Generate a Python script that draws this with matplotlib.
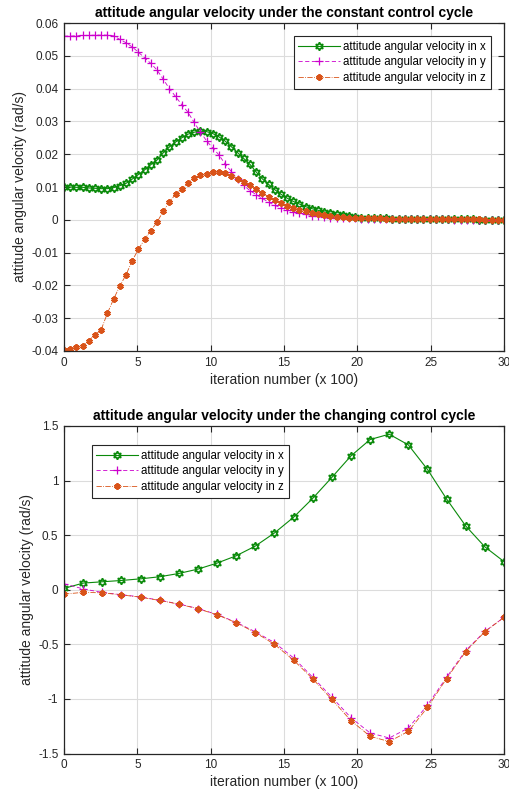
import numpy as np
import matplotlib
matplotlib.use("Agg")
import matplotlib.pyplot as plt
from matplotlib.ticker import FuncFormatter

plt.rcParams['font.family'] = ['Liberation Sans', 'DejaVu Sans']

# ---------------- data: constant control cycle (top) ----------------
top_wx = [0.0100, 0.0100, 0.0099, 0.0099, 0.0097, 0.0096, 0.0095, 0.0095, 0.0098, 0.0104,
          0.0111, 0.0124, 0.0138, 0.0152, 0.0168, 0.0182, 0.0204, 0.0222, 0.0237, 0.0250,
          0.0261, 0.0267, 0.0270, 0.0269, 0.0263, 0.0253, 0.0240,
          0.0223, 0.0205, 0.0187, 0.0169, 0.0146, 0.0125, 0.0108, 0.0092, 0.0078, 0.0066,
          0.0056, 0.0048, 0.0040, 0.0034, 0.0029, 0.0024, 0.0020, 0.0017, 0.0014, 0.0011,
          0.0009, 0.0007, 0.0006, 0.0005, 0.0004,
          0.0004, 0.0003, 0.0003, 0.0003, 0.0002, 0.0002, 0.0002, 0.0002, 0.0001, 0.0001,
          0.0001, 0.0001, 0.0001, 0.0001, 0.0001, 0.0000, 0.0000, 0.0000, 0.0000, 0.0000]
top_wy = [0.0560, 0.0560, 0.0561, 0.0562, 0.0562, 0.0563, 0.0563, 0.0563, 0.0561,
          0.0550, 0.0540, 0.0527, 0.0511, 0.0494, 0.0477, 0.0457, 0.0429, 0.0400, 0.0376,
          0.0351, 0.0328, 0.0297, 0.0268, 0.0241, 0.0219, 0.0198, 0.0170,
          0.0147, 0.0124, 0.0105, 0.0089, 0.0077, 0.0065, 0.0054, 0.0044, 0.0037, 0.0031,
          0.0025, 0.0021, 0.0017, 0.0013, 0.0011, 0.0009, 0.0007, 0.0006, 0.0005, 0.0004,
          0.0004, 0.0003, 0.0003, 0.0003, 0.0002, 0.0002, 0.0002, 0.0002, 0.0001, 0.0001,
          0.0001, 0.0001, 0.0001, 0.0001, 0.0001, 0.0001, 0.0000, 0.0000, 0.0000, 0.0000,
          0.0000, 0.0000, 0.0000, 0.0000, 0.0000]
top_wz = [-0.0397, -0.0393, -0.0389, -0.0385, -0.0368, -0.0351, -0.0335, -0.0285, -0.0242, -0.0202,
          -0.0168, -0.0125, -0.0090, -0.0060, -0.0033, -0.0008, 0.0026, 0.0054, 0.0078, 0.0095,
          0.0112, 0.0127, 0.0136, 0.0141, 0.0145, 0.0145, 0.0143,
          0.0135, 0.0125, 0.0115, 0.0105, 0.0093, 0.0082, 0.0070, 0.0060, 0.0051, 0.0043,
          0.0037, 0.0031, 0.0027, 0.0022, 0.0018, 0.0015, 0.0012, 0.0010, 0.0008, 0.0007,
          0.0006, 0.0005, 0.0005, 0.0004, 0.0004,
          0.0003, 0.0003, 0.0003, 0.0003, 0.0002, 0.0002, 0.0002, 0.0002, 0.0001, 0.0001,
          0.0001, 0.0001, 0.0001, 0.0001, 0.0001, 0.0001, 0.0000, 0.0000, 0.0000, 0.0000]

# ---------------- data: changing control cycle (bottom) ----------------
bot_wx = [0.012, 0.061, 0.073, 0.085, 0.100, 0.119, 0.149, 0.189, 0.244, 0.311, 0.400, 0.520,
          0.664, 0.837, 1.029, 1.226, 1.376, 1.425, 1.327, 1.102, 0.831, 0.584, 0.393, 0.258]
bot_wy = [0.055, 0.008, -0.025, -0.045, -0.066, -0.096, -0.130, -0.172, -0.226, -0.298, -0.385,
          -0.484, -0.624, -0.801, -0.984, -1.172, -1.312, -1.358, -1.267, -1.057, -0.801, -0.557,
          -0.381, -0.253]
bot_wz = [-0.040, -0.024, -0.028, -0.047, -0.068, -0.098, -0.132, -0.174, -0.229, -0.302, -0.392,
          -0.500, -0.645, -0.816, -1.005, -1.199, -1.342, -1.391, -1.297, -1.078, -0.813, -0.566,
          -0.384, -0.253]

labels = ['attitude angular velocity in x', 'attitude angular velocity in y',
          'attitude angular velocity in z']
titles = ['attitude angular velocity under the constant control cycle',
          'attitude angular velocity under the changing control cycle']
xlabel = 'iteration number (x 100)'
ylabel = 'attitude angular velocity (rad/s)'
x_max = 30

top_yticks = [-0.04, -0.03, -0.02, -0.01, 0, 0.01, 0.02, 0.03, 0.04, 0.05, 0.06]
bot_yticks = [-1.5, -1, -0.5, 0, 0.5, 1, 1.5]
xticks = [0, 5, 10, 15, 20, 25, 30]

c_x = '#0a8a0a'
c_y = '#cc00cc'
c_z = '#D95319'

W, H = 509, 796
fig = plt.figure(figsize=(W / 100, H / 100), dpi=100)
ax1 = fig.add_axes([64 / W, 1 - 351 / H, 440 / W, 328 / H])
ax2 = fig.add_axes([64 / W, 1 - 753.5 / H, 440 / W, 327.5 / H])

hexagram = (6, 1, 0)
asterisk = (6, 2, 0)


def fmt(v, pos):
    s = ('%.2f' % v).rstrip('0').rstrip('.')
    if s in ('-0', ''):
        s = '0'
    return s


def draw(ax, wx, wy, wz, yticks, ylim, title, legend_kw):
    xs = np.linspace(0, x_max, len(wx))
    ax.plot(xs, wx, color=c_x, ls='-', lw=0.8, marker=hexagram, ms=6,
            mfc='none', mec=c_x, mew=1.2, label=labels[0])
    ax.plot(xs, wy, color=c_y, ls='--', lw=0.6, marker='+', ms=5.5,
            mec=c_y, mew=0.9, label=labels[1], dashes=(5, 3))
    ax.plot(xs, wz, color=c_z, ls='-.', lw=0.6, marker=asterisk, ms=4.5,
            mec=c_z, mfc=c_z, mew=1.6, label=labels[2])
    ax.set_xlim(0, x_max)
    ax.set_ylim(*ylim)
    ax.set_xticks(xticks)
    ax.set_yticks(yticks)
    ax.yaxis.set_major_formatter(FuncFormatter(fmt))
    ax.grid(True, color='#dcdcdc', lw=0.8)
    ax.set_axisbelow(True)
    ax.tick_params(direction='in', top=True, right=True, labelsize=8.5,
                   colors='#262626', length=4, width=0.8, pad=4)
    for sp in ax.spines.values():
        sp.set_color('#262626')
        sp.set_linewidth(0.9)
    ax.set_xlabel(xlabel, fontsize=10, color='#262626', labelpad=3)
    ax.set_ylabel(ylabel, fontsize=10, color='#262626', labelpad=3)
    ax.set_title(title, fontsize=10, fontweight='bold', pad=4)
    leg = ax.legend(fontsize=8.3, handlelength=3.6, handletextpad=0.3,
                    borderpad=0.4, labelspacing=0.32, fancybox=False,
                    framealpha=1, edgecolor='#262626', borderaxespad=0, **legend_kw)
    leg.get_frame().set_linewidth(0.8)


draw(ax1, top_wx, top_wy, top_wz, top_yticks, (-0.04, 0.06), titles[0],
     dict(loc='upper right', bbox_to_anchor=(0.97, 0.96)))
draw(ax2, bot_wx, bot_wy, bot_wz, bot_yticks, (-1.5, 1.5), titles[1],
     dict(loc='upper left', bbox_to_anchor=(0.063, 0.942)))

fig.savefig('out.png', dpi=100)
